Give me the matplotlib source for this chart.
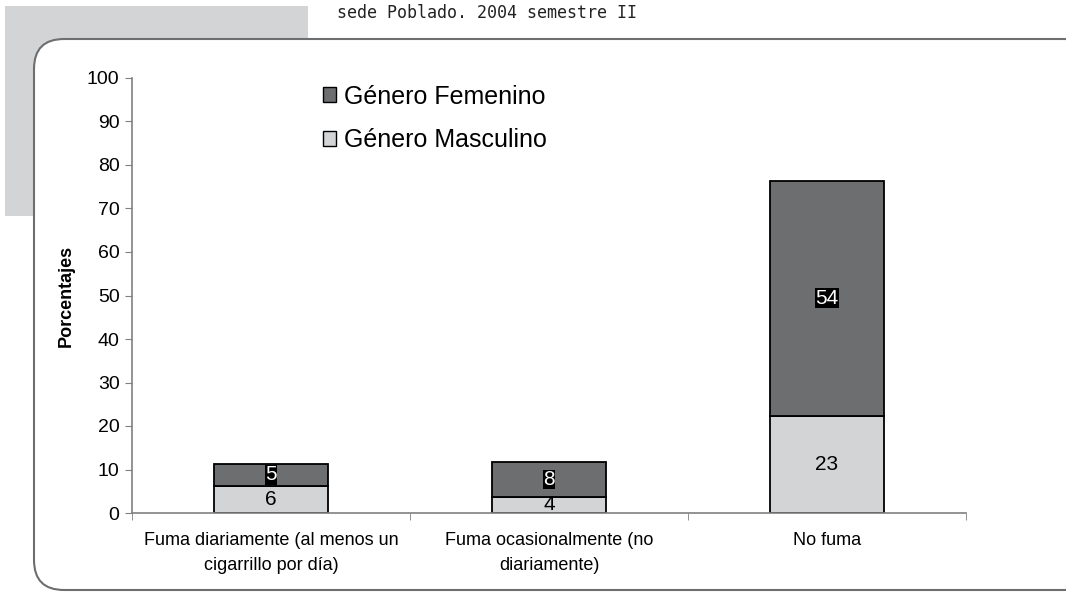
import matplotlib
matplotlib.use("Agg")
import matplotlib.pyplot as plt
from matplotlib.patches import Rectangle, FancyBboxPatch, Patch
import numpy as np

# data
categorias = ["Fuma diariamente (al menos un\ncigarrillo por día)",
              "Fuma ocasionalmente (no\ndiariamente)",
              "No fuma"]
masculino = [6.3, 3.7, 22.3]
femenino = [5.0, 8.0, 54.1]
etiq_masc = ["6", "4", "23"]
etiq_fem = ["5", "8", "54"]

c_fem = "#6d6e70"
c_masc = "#d3d4d6"

plt.rcParams["font.family"] = ["Liberation Sans", "DejaVu Sans"]

fig = plt.figure(figsize=(10.66, 5.92), dpi=100)

# page decoration, in pixel coords
bg = fig.add_axes([0, 0, 1, 1], zorder=0)
bg.set_xlim(0, 1066)
bg.set_ylim(592, 0)
bg.axis("off")
bg.add_patch(Rectangle((5, 6), 303, 210, facecolor=c_masc, edgecolor="none"))
bg.add_patch(FancyBboxPatch((34, 39), 1060, 551,
                            boxstyle="round,pad=0,rounding_size=30",
                            facecolor="white", edgecolor="#6d6e70", lw=1.5))
bg.text(337, 13, "sede Poblado. 2004 semestre II", family="DejaVu Sans Mono",
        fontsize=12, color="#222222", va="center", ha="left")

ax = fig.add_axes([132/1066, 1-513/592, (966-132)/1066, (513-78)/592], zorder=1)
ax.patch.set_alpha(0)
x = np.arange(len(categorias))
w = 0.41
ax.bar(x, masculino, w, color=c_masc, edgecolor="black", lw=1.3, label="Género Masculino")
ax.bar(x, femenino, w, bottom=masculino, color=c_fem, edgecolor="black", lw=1.3,
       label="Género Femenino")

for i in range(len(x)):
    ax.text(x[i], masculino[i]/2, etiq_masc[i], ha="center", va="center",
            fontsize=15, color="black")
    ax.text(x[i], masculino[i] + femenino[i]/2, etiq_fem[i], ha="center", va="center",
            fontsize=15, color="white",
            bbox=dict(facecolor="black", edgecolor="none", pad=0.3))

ax.set_xlim(-0.5, 2.5)
ax.set_ylim(0, 100)
ax.set_yticks(range(0, 101, 10))
ax.set_xticks(x)
ax.set_xticklabels(categorias, fontsize=13, linespacing=1.55)
ax.set_xticks([-0.5, 0.5, 1.5, 2.5], minor=True)
ax.tick_params(axis="x", which="major", length=0, pad=14)
ax.tick_params(axis="x", which="minor", length=5, color="#808080")
ax.tick_params(axis="y", length=5, color="#808080", labelsize=14, pad=4)
for s in ["top", "right"]:
    ax.spines[s].set_visible(False)
for s in ["left", "bottom"]:
    ax.spines[s].set_color("#808080")
    ax.spines[s].set_linewidth(1.2)
ax.set_ylabel("Porcentajes", fontsize=13, fontweight="bold", labelpad=9)

handles = [Patch(facecolor=c_fem, edgecolor="black"),
           Patch(facecolor=c_masc, edgecolor="black")]
fig.legend(handles, ["Género Femenino", "Género Masculino"], loc="upper left",
           bbox_to_anchor=(300/1066, 1-62/592), frameon=False, fontsize=18,
           handlelength=0.55, handleheight=0.55, handletextpad=0.3, labelspacing=0.78)

fig.savefig("out.png", dpi=100)
